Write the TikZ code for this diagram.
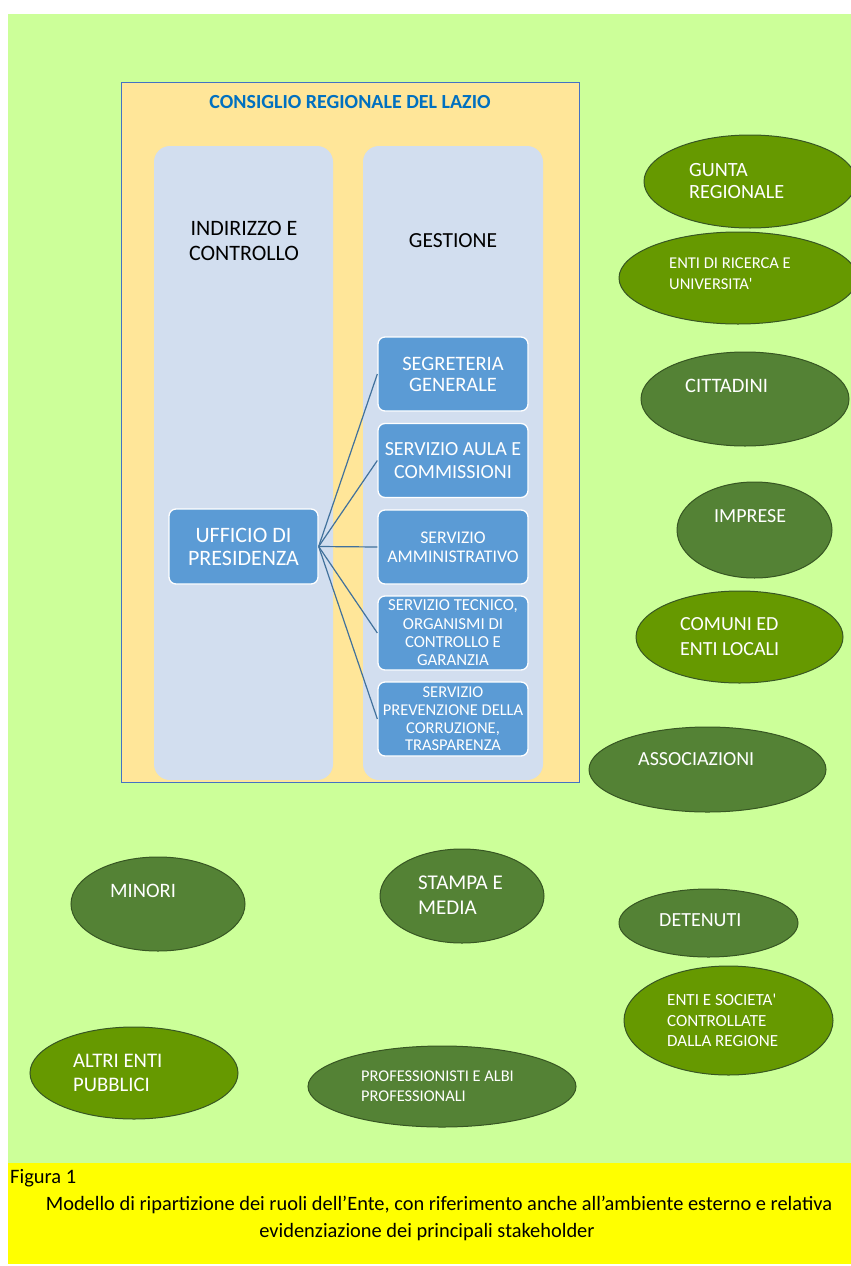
\documentclass[tikz,border=0pt]{standalone}
\usepackage{fontspec}
\setmainfont{Carlito}
\usetikzlibrary{shapes.geometric}
\definecolor{bggreen}{HTML}{CCFF99}
\definecolor{capyellow}{HTML}{FFFF00}
\definecolor{mainfill}{HTML}{FFE699}
\definecolor{mainborder}{HTML}{4472C4}
\definecolor{titleblue}{HTML}{0070C0}
\definecolor{panelfill}{HTML}{D2DEEF}
\definecolor{boxblue}{HTML}{5B9BD5}
\definecolor{linkblue}{HTML}{41719C}
\definecolor{olive}{HTML}{669900}
\definecolor{darkgr}{HTML}{548235}
\definecolor{ellborder}{HTML}{375623}
\newcommand{\fs}[2]{\fontsize{#1}{#2}\selectfont}
\tikzset{
  panel/.style={fill=panelfill, draw=none, rounded corners=16pt},
  bluebox/.style={fill=boxblue, draw=white, line width=1.3pt, rounded corners=7pt,
    minimum width=150pt, minimum height=74pt, text=white, align=center, inner sep=1pt},
  link/.style={draw=linkblue, line width=1.2pt},
  stake/.style={ellipse, draw=ellborder, line width=1pt, inner sep=0pt},
  oliveell/.style={stake, fill=olive},
  darkell/.style={stake, fill=darkgr},
  stxt/.style={anchor=west, text=white, align=left, inner sep=0pt},
}
\begin{document}
\begin{tikzpicture}[x=1pt, y=-1pt]
\useasboundingbox (0,0) rectangle (851,1266);
\fill[bggreen] (8,14) rectangle (851,1163);
\fill[capyellow] (8,1163) rectangle (851,1264);

% main box
\node[draw=mainborder, fill=mainfill, line width=0.8pt, minimum width=458pt, minimum height=700pt, inner sep=0pt] (mainbox) at (350,432) {};
\node[text=titleblue, font=\bfseries\fs{20}{24}] (title) at (350,102) {CONSIGLIO REGIONALE DEL LAZIO};

\fill[panel] (154,146) rectangle (333,780);
\fill[panel] (363,146) rectangle (543,780);
\node[align=center, font=\fs{22}{25}] (indir) at (244,240.5) {INDIRIZZO E\\CONTROLLO};
\node[font=\fs{21.5}{25}] (gest) at (453,241) {GESTIONE};

\node[bluebox, minimum width=149pt, minimum height=75pt, font=\fs{22}{23}] (uff) at (243.5,546.5) {UFFICIO DI\\PRESIDENZA};
\node[bluebox, font=\fs{20.5}{21}] (segr) at (453,374) {SEGRETERIA\\GENERALE};
\node[bluebox, font=\fs{20}{23}] (aula) at (453,460.5) {SERVIZIO AULA E\\COMMISSIONI};
\node[bluebox, font=\fs{17.8}{19}] (amm) at (453,547) {SERVIZIO\\AMMINISTRATIVO};
\node[bluebox, font=\fs{16.8}{18.3}] (tecn) at (453,633) {SERVIZIO TECNICO,\\ORGANISMI DI\\CONTROLLO E\\GARANZIA};
\node[bluebox, font=\fs{16.5}{17.7}] (prev) at (453,719) {SERVIZIO\\PREVENZIONE DELLA\\CORRUZIONE,\\TRASPARENZA};

\foreach \b in {segr,aula,amm,tecn,prev} \draw[link] (uff.east) -- (\b.west);

% stakeholders
\node[oliveell, minimum width=212pt, minimum height=93pt] (gunta) at (750,181.5) {};
\node[stxt, font=\fs{20.2}{22}] (guntat) at (689,181) {GUNTA\\REGIONALE};
\node[oliveell, minimum width=238pt, minimum height=92pt] (ricerca) at (738,278) {};
\node[stxt, font=\fs{16.5}{21}] (ricercat) at (669,273.5) {ENTI DI RICERCA E\\UNIVERSITA\textquotesingle};
\node[darkell, minimum width=208pt, minimum height=94pt] (citt) at (745,399) {};
\node[stxt, font=\fs{20.5}{22}] (cittt) at (685,386) {CITTADINI};
\node[darkell, minimum width=155pt, minimum height=96pt] (impr) at (754.5,530) {};
\node[stxt, font=\fs{20}{22}] (imprt) at (714,516) {IMPRESE};
\node[oliveell, minimum width=207pt, minimum height=92pt] (comuni) at (739.5,637) {};
\node[stxt, font=\fs{20}{25}] (comunit) at (680,636.5) {COMUNI ED\\ENTI LOCALI};
\node[darkell, minimum width=237pt, minimum height=85pt] (assoc) at (707.5,769.5) {};
\node[stxt, font=\fs{20}{22}] (assoct) at (638,759) {ASSOCIAZIONI};
\node[darkell, minimum width=174pt, minimum height=94pt] (minori) at (158,904) {};
\node[stxt, font=\fs{20.5}{22}] (minorit) at (110,891) {MINORI};
\node[darkell, minimum width=164pt, minimum height=94pt] (stampa) at (462,896) {};
\node[stxt, font=\fs{21}{25}] (stampat) at (418,895.5) {STAMPA E\\MEDIA};
\node[darkell, minimum width=179pt, minimum height=68pt] (deten) at (708.5,923) {};
\node[stxt, font=\fs{20}{22}] (detent) at (659,920) {DETENUTI};
\node[oliveell, minimum width=209pt, minimum height=109pt] (entisoc) at (728.5,1020.5) {};
\node[stxt, font=\fs{17}{20.5}] (entisoct) at (667,1020.5) {ENTI E SOCIETA\textquotesingle\\CONTROLLATE\\DALLA REGIONE};
\node[oliveell, minimum width=208pt, minimum height=92pt] (altri) at (134,1073) {};
\node[stxt, font=\fs{20.7}{24}] (altrit) at (73,1073) {ALTRI ENTI\\PUBBLICI};
\node[darkell, minimum width=268pt, minimum height=81pt] (prof) at (442,1086.5) {};
\node[stxt, font=\fs{16.4}{20}] (proft) at (361,1086) {PROFESSIONISTI E ALBI\\PROFESSIONALI};

% caption
\node[anchor=west, inner sep=0pt, font=\fs{20.5}{22}] (fig) at (10,1178) {Figura 1};
\node[inner sep=0pt, font=\fs{20.4}{22}] (cap1) at (439,1205) {Modello di ripartizione dei ruoli dell’Ente, con riferimento anche all’ambiente esterno e relativa};
\node[inner sep=0pt, font=\fs{20.4}{22}] (cap2) at (427,1232) {evidenziazione dei principali stakeholder};
\end{tikzpicture}
\end{document}
